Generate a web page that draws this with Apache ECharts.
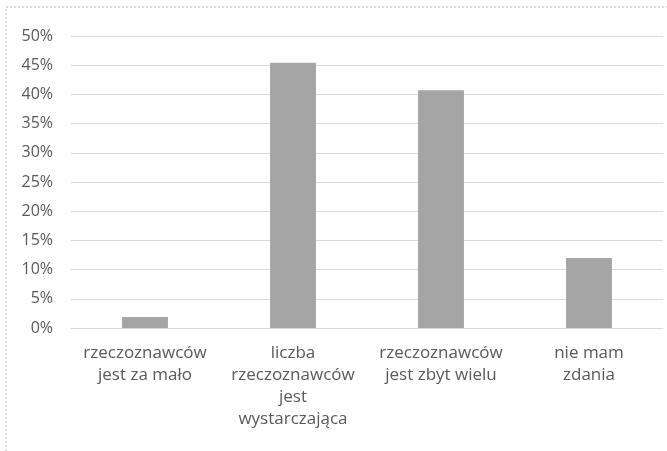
<!DOCTYPE html>
<html>
<head>
<meta charset="utf-8">
<script src="https://cdn.jsdelivr.net/npm/echarts@6/dist/echarts.min.js"></script>
<style>
  html, body { margin: 0; padding: 0; background: #fff; }
  #chart { width: 667px; height: 451px; }
</style>
</head>
<body>
<div id="chart"></div>
<script>
// Opinions on the number of property appraisers (share of answers, %)
const categories = [
  'rzeczoznawców\njest za mało',
  'liczba\nrzeczoznawców\njest\nwystarczająca',
  'rzeczoznawców\njest zbyt wielu',
  'nie mam\nzdania'
];
const shares = [1.9, 45.4, 40.7, 12.0];
const yTicks = { min: 0, max: 50, step: 5 };

const chart = echarts.init(document.getElementById('chart'), null, { renderer: 'canvas' });

chart.setOption({
  animation: false,
  backgroundColor: '#ffffff',
  textStyle: { fontFamily: 'Open Sans, sans-serif' },
  grid: { left: 71, right: 4, top: 36, bottom: 123, containLabel: false },
  graphic: [
    {
      type: 'polyline',
      shape: { points: [[6, 451], [6, 7], [667, 7]] },
      style: { stroke: '#bdbdbd', lineWidth: 1, lineDash: [2, 2], fill: null },
      silent: true
    }
  ],
  xAxis: {
    type: 'category',
    data: categories,
    axisLine: { show: true, lineStyle: { color: '#d9d9d9', width: 1 } },
    axisTick: { show: false },
    axisLabel: {
      color: '#595959',
      fontSize: 17,
      lineHeight: 22,
      margin: 14,
      interval: 0,
      fontFamily: 'Open Sans, sans-serif'
    }
  },
  yAxis: {
    type: 'value',
    min: yTicks.min,
    max: yTicks.max,
    interval: yTicks.step,
    axisLine: { show: false },
    axisTick: { show: false },
    splitLine: { lineStyle: { color: '#d9d9d9', width: 1 } },
    axisLabel: {
      color: '#595959',
      fontSize: 16,
      margin: 18,
      formatter: v => v + '%',
      fontFamily: 'Open Sans, sans-serif'
    }
  },
  series: [
    {
      type: 'bar',
      data: shares,
      barWidth: '31%',
      itemStyle: { color: '#a5a5a5' },
      silent: true
    }
  ]
});
</script>
</body>
</html>
